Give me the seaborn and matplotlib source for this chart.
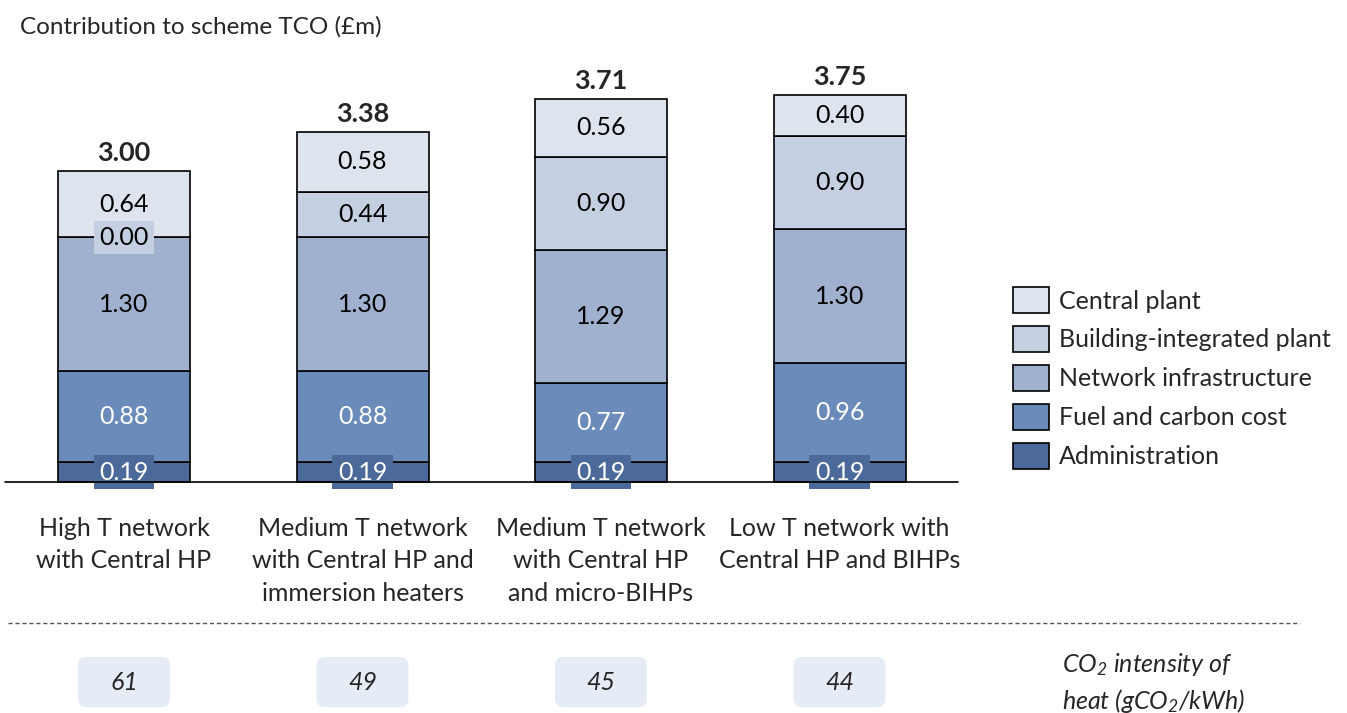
import numpy as np
import pandas as pd
import matplotlib
matplotlib.use("Agg")
import matplotlib.pyplot as plt
import seaborn as sns
from matplotlib.patches import Patch, FancyBboxPatch

# --- data ---
schemes = [
    "High T network\nwith Central HP",
    "Medium T network\nwith Central HP and\nimmersion heaters",
    "Medium T network\nwith Central HP\nand micro-BIHPs",
    "Low T network with\nCentral HP and BIHPs",
]
administration = [0.19, 0.19, 0.19, 0.19]
fuel_carbon = [0.88, 0.88, 0.77, 0.96]
network = [1.30, 1.30, 1.29, 1.30]
building_plant = [0.00, 0.44, 0.90, 0.90]
central_plant = [0.64, 0.58, 0.56, 0.40]
totals = [3.00, 3.38, 3.71, 3.75]
co2_intensity = [61, 49, 45, 44]

# stacking order bottom -> top
components = [
    ("Administration", administration, "#4b6a9a", "white"),
    ("Fuel and carbon cost", fuel_carbon, "#6b8cba", "white"),
    ("Network infrastructure", network, "#9fb1ce", "black"),
    ("Building-integrated plant", building_plant, "#c4cfe1", "black"),
    ("Central plant", central_plant, "#dde4ee", "black"),
]

sns.set_style("white")
plt.rcParams["font.family"] = ["Lato", "DejaVu Sans"]
plt.rcParams["mathtext.fontset"] = "custom"
plt.rcParams["mathtext.it"] = "Lato:italic"
plt.rcParams["mathtext.rm"] = "Lato:italic"

FS = 18

fig = plt.figure(figsize=(13.47, 7.13), dpi=100)
ax = fig.add_axes([0, 0, 1, 1])

# pixel geometry of the reference: bar centre spacing 238.5px, 103.3px per £m, baseline at y=482
px_x = 238.5
px_y = 103.3
ax.set_xlim(-124 / px_x, (1347 - 124) / px_x)
ax.set_ylim(-(713 - 482) / px_y, 482 / px_y)

bottom = np.zeros(len(schemes))
handles = []
for name, vals, col, tcol in components:
    vals = np.array(vals)
    sns.barplot(x=list(range(len(schemes))), y=vals, bottom=bottom, color=col,
                width=132 / px_x, edgecolor="black", linewidth=1.2, ax=ax,
                native_scale=True, saturation=1)
    for i, (v, b) in enumerate(zip(vals, bottom)):
        ax.text(i, b + v / 2, f"{v:.2f}", ha="center", va="center", fontsize=FS,
                color=tcol, zorder=5,
                bbox=dict(facecolor=col, edgecolor="none", pad=4))
    handles.append(Patch(facecolor=col, edgecolor="black", linewidth=1.2, label=name))
    bottom = bottom + vals

for i, t in enumerate(totals):
    ax.text(i, bottom[i] + 6 / px_y, f"{t:.2f}", ha="center", va="bottom",
            fontsize=19.5, fontweight="bold")

# baseline
ax.axhline(0, xmin=5 / 1347, xmax=958 / 1347, color="black", linewidth=1.2, zorder=6)

# scheme labels
for i, s in enumerate(schemes):
    ax.text(i, -35 / px_y, s, ha="center", va="top", fontsize=FS, linespacing=1.5)

# dashed separator
ax.axhline(-141 / px_y, xmin=8 / 1347, xmax=1300 / 1347, color="#555555",
           linewidth=1, linestyle=(0, (3, 2)))

# CO2 intensity boxes
box_w = 92 / px_x
box_h = 50 / px_y
box_y = -200 / px_y
for i, c in enumerate(co2_intensity):
    ax.add_patch(FancyBboxPatch((i - box_w / 2, box_y - box_h / 2), box_w, box_h,
                                boxstyle="round,pad=0,rounding_size=0.035",
                                mutation_aspect=px_x / px_y,
                                facecolor="#e6ecf6", edgecolor="none"))
    ax.text(i, box_y, str(c), ha="center", va="center", fontsize=FS, style="italic")

ax.text(1062 / 1347, 30 / 713, "CO$_\\mathit{2}$ intensity of\nheat (gCO$_\\mathit{2}$/kWh)",
        transform=ax.transAxes, ha="left", va="center", fontsize=FS,
        style="italic", linespacing=1.4)

# title
fig.text(20 / 1347, 1 - 27 / 713, "Contribution to scheme TCO (£m)", ha="left",
         va="center", fontsize=17.5)

leg = ax.legend(handles=handles[::-1], loc="center left",
                bbox_to_anchor=(1013 / 1347, 1 - 378 / 713), frameon=False,
                fontsize=FS, handlelength=1.45, handleheight=1.25,
                labelspacing=0.5, handletextpad=0.4, borderaxespad=0,
                borderpad=0)

ax.set_xticks([])
ax.set_yticks([])
ax.set_xlabel("")
ax.set_ylabel("")
sns.despine(ax=ax, left=True, bottom=True)
fig.savefig("out.png", dpi=100)
